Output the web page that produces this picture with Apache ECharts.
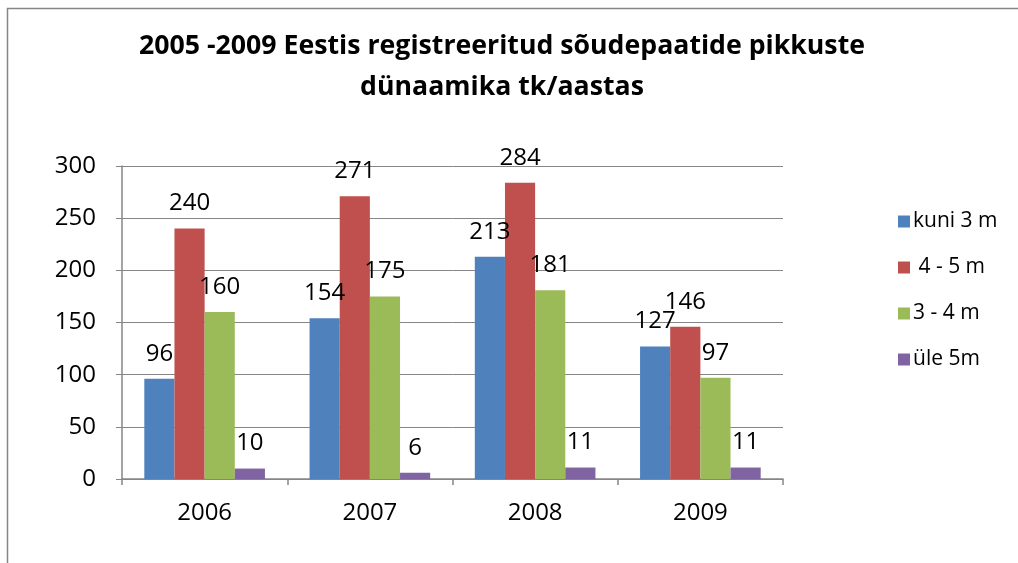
<!DOCTYPE html>
<html><head><meta charset="utf-8">
<script src="https://cdn.jsdelivr.net/npm/echarts@6/dist/echarts.min.js"></script>
<style>html,body{margin:0;padding:0;background:#fff}#c{width:1018px;height:563px}</style>
</head><body><div id="c"></div>
<script>
var titleText = '2005 -2009 Eestis registreeritud sõudepaatide pikkuste\ndünaamika tk/aastas';
var categories = ['2006', '2007', '2008', '2009'];
var seriesNames = ['kuni 3 m', ' 4 - 5 m', '3 - 4 m', 'üle 5m'];
var kuni3 = [96, 154, 213, 127];
var m45 = [240, 271, 284, 146];
var m34 = [160, 175, 181, 97];
var ule5 = [10, 6, 11, 11];
var colors = ['#4F81BD', '#C0504D', '#9BBB59', '#8064A2'];
var yTicks = [0, 50, 100, 150, 200, 250, 300];

var FONT = '"Open Sans", sans-serif';
var chart = echarts.init(document.getElementById('c'));
var data = [kuni3, m45, m34, ule5];
chart.setOption({
  animation: false,
  color: colors,
  graphic: [{type: 'rect', shape: {x: 7.5, y: 8.5, width: 1100, height: 700}, style: {fill: 'none', stroke: '#868686', lineWidth: 1.5}}],
  title: {text: titleText, left: 497, top: 21, textAlign: 'center',
    textStyle: {fontFamily: FONT, fontSize: 26.7, fontWeight: 'bold', color: '#000', lineHeight: 41}},
  legend: {orient: 'vertical', left: 893, top: 206, itemWidth: 12, itemHeight: 12, itemGap: 25,
    icon: 'rect', textStyle: {fontFamily: FONT, fontSize: 21, color: '#000', padding: [0,0,0,-2]}, data: seriesNames},
  grid: {left: 122, top: 166, width: 661, height: 313},
  xAxis: {type: 'category', data: categories,
    axisLine: {lineStyle: {color: '#868686', width: 1.5}},
    axisTick: {show: true, length: 6, interval: 0, alignWithLabel: false, lineStyle: {color: '#868686', width: 1.5}},
    axisLabel: {fontFamily: FONT, fontSize: 24, color: '#000', margin: 22}},
  yAxis: {type: 'value', min: 0, max: 300, interval: 50,
    axisLine: {show: true, lineStyle: {color: '#868686', width: 1.5}},
    axisTick: {show: true, length: 6, lineStyle: {color: '#868686'}},
    splitLine: {lineStyle: {color: '#868686', width: 1}},
    axisLabel: {fontFamily: FONT, fontSize: 24, color: '#000', margin: 26,
      formatter: function (v) { return yTicks.indexOf(v) >= 0 ? String(v) : ''; }}},
  series: seriesNames.map(function (n, i) {
    return {name: n, type: 'bar', data: data[i], barGap: '0%', barCategoryGap: '27%',
      label: {show: true, position: 'top', distance: 13, fontFamily: FONT, fontSize: 24, color: '#000'}};
  })
});
</script></body></html>
